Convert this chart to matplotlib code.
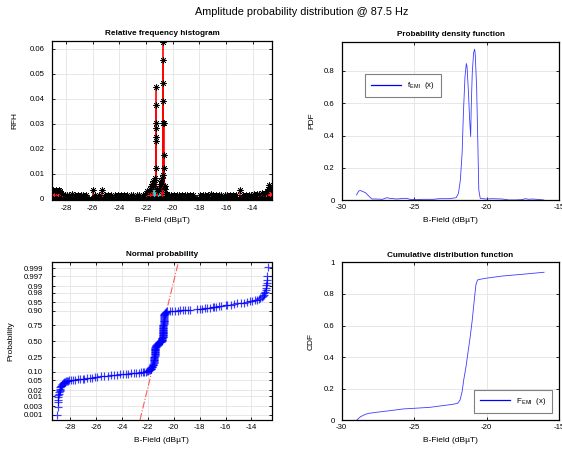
import numpy as np
import matplotlib
matplotlib.use('Agg')
import matplotlib.pyplot as plt
from matplotlib.lines import Line2D
from statistics import NormalDist

plt.rcParams['font.family'] = ['Liberation Sans', 'DejaVu Sans']
plt.rcParams['axes.unicode_minus'] = False
plt.rcParams['mathtext.fontset'] = 'custom'
plt.rcParams['mathtext.rm'] = 'Liberation Sans'
plt.rcParams['mathtext.it'] = 'Liberation Sans'

# ---------------- data ----------------
suptitle = 'Amplitude probability distribution @ 87.5 Hz'
xlabel = 'B-Field (dB\u00b5T)'

# Relative frequency histogram (stems)
hist_lo_x = [-28.95, -28.85, -28.75, -28.65, -28.55, -28.45, -28.35, -28.25, -28.1, -27.95,
             -27.75, -27.55, -27.35, -27.1, -26.9, -26.7, -26.5, -26.0, -25.8, -25.55,
             -25.3, -25.1, -24.85, -24.6, -24.35, -24.1, -23.9, -23.65, -23.4, -23.15,
             -22.95, -22.7, -22.5, -22.25, -22.05]
hist_lo_rfh = [0.0035, 0.003, 0.0035, 0.003, 0.0035, 0.003, 0.0025, 0.002, 0.0015, 0.0015,
               0.0015, 0.002, 0.0015, 0.0015, 0.0015, 0.0015, 0.0015, 0.0035, 0.0015, 0.0015,
               0.0035, 0.0015, 0.0015, 0.0015, 0.0015, 0.0015, 0.0015, 0.0015, 0.0015, 0.0015,
               0.0015, 0.0015, 0.0015, 0.0015, 0.002]
hist_pk_x = [-21.9, -21.8, -21.7, -21.6, -21.55, -21.5, -21.45, -21.4, -21.35, -21.3,
             -21.27, -21.26, -21.25, -21.25, -21.24, -21.23, -21.22, -21.15, -21.1, -21.0,
             -20.95, -20.9, -20.85, -20.8, -20.75, -20.72, -20.71, -20.70, -20.70, -20.69,
             -20.68, -20.67, -20.66, -20.6, -20.55, -20.5]
hist_pk_rfh = [0.003, 0.003, 0.004, 0.005, 0.006, 0.005, 0.007, 0.006, 0.0075, 0.0085,
               0.0125, 0.0448, 0.0305, 0.0249, 0.0375, 0.0285, 0.0233, 0.004, 0.003, 0.004,
               0.005, 0.006, 0.007, 0.0085, 0.0096, 0.0392, 0.0465, 0.0555, 0.0302, 0.0628,
               0.0302, 0.0176, 0.0122, 0.005, 0.004, 0.002]
hist_hi_x = [-20.45, -20.3, -20.1, -19.9, -19.7, -19.5, -19.3, -19.1, -18.9, -18.7,
             -18.5, -17.95, -17.75, -17.55, -17.35, -17.15, -16.95, -16.75, -16.55, -16.35,
             -16.1, -15.9, -15.7, -15.5, -15.25, -14.95, -14.7, -14.5, -14.3, -14.1,
             -13.9, -13.7, -13.5, -13.3, -13.1, -12.95, -12.85, -12.75, -12.65]
hist_hi_rfh = [0.002, 0.0015, 0.0015, 0.0015, 0.0015, 0.0015, 0.0015, 0.0015, 0.0015, 0.0015,
               0.0015, 0.0015, 0.0015, 0.0015, 0.0015, 0.002, 0.0015, 0.0015, 0.0015, 0.0015,
               0.0015, 0.0015, 0.0015, 0.0015, 0.0015, 0.0035, 0.0015, 0.0015, 0.0015, 0.0015,
               0.002, 0.002, 0.002, 0.0025, 0.0025, 0.003, 0.004, 0.0055, 0.004]
hist_cyan_x = [-21.4, -21.3, -21.05, -20.95, -20.6, -20.5]
hist_cyan_rfh = [0.004, 0.0035, 0.004, 0.0035, 0.004, 0.003]
hist_empty_bins = np.arange(-28.95, -12.55, 0.1)

# Probability density function
pdf_x = [-28.98, -28.82, -28.70, -28.36, -28.02, -27.9, -27.57, -27.2, -26.9, -26.66,
         -26.2, -25.75, -25.5, -25.3, -24.84, -24.39, -23.7, -23.25, -22.57, -22.11,
         -21.95, -21.82, -21.70, -21.61, -21.5, -21.41, -21.36, -21.27, -21.18, -21.11,
         -21.07, -21.0, -20.91, -20.84, -20.8, -20.7, -20.61, -20.55, -20.45, -20.07,
         -19.6, -18.93, -18.48, -18.02, -17.57, -17.34, -17.11, -16.89, -16.55, -16.07]
pdf_y = [0.033, 0.058, 0.060, 0.047, 0.016, 0.008, 0.008, 0.006, 0.016, 0.012,
         0.008, 0.012, 0.012, 0.006, 0.004, 0.006, 0.006, 0.010, 0.010, 0.016,
         0.043, 0.126, 0.29, 0.54, 0.765, 0.845, 0.827, 0.68, 0.497, 0.394,
         0.58, 0.786, 0.909, 0.934, 0.909, 0.703, 0.33, 0.064, 0.012, 0.008,
         0.010, 0.008, 0.002, 0.002, 0.004, 0.010, 0.006, 0.008, 0.006, 0.002]

# Cumulative distribution function
cdf_x = [-28.98, -28.70, -28.36, -28.14, -27.57, -26.66, -25.75, -25.0, -23.93, -23.02,
         -22.34, -22.0, -21.84, -21.70, -21.59, -21.43, -21.27, -21.14, -21.0, -20.86,
         -20.75, -20.64, -20.48, -20.07, -18.93, -17.57, -16.05]
cdf_y = [0.0, 0.023, 0.038, 0.044, 0.051, 0.061, 0.072, 0.076, 0.082, 0.093,
         0.101, 0.108, 0.129, 0.181, 0.255, 0.34, 0.445, 0.53, 0.635, 0.762,
         0.857, 0.888, 0.892, 0.899, 0.913, 0.924, 0.937]

# Normal probability plot points (value, probability) - lower tail / plateau
np_lo_x = [-29.03, -28.93, -28.93, -28.93, -28.92, -28.90, -28.87, -28.85, -28.82, -28.80,
           -28.78, -28.75, -28.72, -28.68, -28.64, -28.59, -28.55, -28.50, -28.46, -28.40,
           -28.33, -28.26, -28.18,
           -28.05, -27.9, -27.75, -27.6, -27.4, -27.2, -27.04, -26.9, -26.7, -26.5,
           -26.3, -26.1, -25.9, -25.6, -25.4, -25.1, -24.83, -24.6, -24.4, -24.18,
           -23.9, -23.7, -23.53, -23.3, -23.1, -22.9, -22.7, -22.55, -22.4, -22.26,
           -22.15, -22.05]
np_lo_p = [0.0009, 0.0028, 0.0052, 0.0070, 0.0094, 0.0115, 0.0136, 0.016, 0.019, 0.021,
           0.023, 0.026, 0.029, 0.031, 0.034, 0.037, 0.039, 0.041, 0.043, 0.045,
           0.046, 0.048, 0.049,
           0.050, 0.051, 0.052, 0.053, 0.054, 0.055, 0.057, 0.058, 0.060, 0.061,
           0.063, 0.064, 0.066, 0.069, 0.070, 0.072, 0.075, 0.077, 0.079, 0.081,
           0.083, 0.085, 0.087, 0.089, 0.091, 0.093, 0.094, 0.096, 0.097, 0.099,
           0.101, 0.103]
# dense central band
np_mid_x = [-21.98, -21.90, -21.84, -21.78, -21.75, -21.72, -21.69, -21.67, -21.64, -21.62,
            -21.60, -21.58, -21.56, -21.54, -21.53, -21.52, -21.51, -21.50, -21.495, -21.49,
            -21.485, -21.48, -21.475, -21.47, -21.465, -21.46, -21.455, -21.45, -21.445, -21.44,
            -21.435, -21.43, -21.425, -21.42, -21.41, -21.40, -21.39, -21.38, -21.36, -21.33,
            -21.29, -21.25, -21.20, -21.15, -21.10, -21.05, -21.01, -20.97, -20.94, -20.92,
            -20.90, -20.89, -20.88, -20.87, -20.865, -20.86, -20.855, -20.85, -20.845, -20.84,
            -20.835, -20.83, -20.825, -20.82, -20.82, -20.815, -20.81, -20.81, -20.805, -20.80,
            -20.80, -20.795, -20.79, -20.79, -20.785, -20.78, -20.78, -20.775, -20.77, -20.77,
            -20.765, -20.76, -20.755, -20.75, -20.74, -20.73, -20.72, -20.70, -20.68, -20.65,
            -20.62, -20.58, -20.5]
np_mid_p = [0.106, 0.110, 0.115, 0.120, 0.125, 0.130, 0.135, 0.140, 0.148, 0.155,
            0.162, 0.170, 0.180, 0.190, 0.200, 0.210, 0.220, 0.230, 0.240, 0.250,
            0.260, 0.270, 0.280, 0.290, 0.300, 0.310, 0.320, 0.330, 0.340, 0.350,
            0.360, 0.370, 0.380, 0.390, 0.400, 0.410, 0.420, 0.430, 0.438, 0.445,
            0.452, 0.460, 0.468, 0.475, 0.482, 0.490, 0.497, 0.505, 0.512, 0.520,
            0.530, 0.540, 0.550, 0.560, 0.570, 0.580, 0.590, 0.600, 0.610, 0.620,
            0.630, 0.640, 0.650, 0.660, 0.670, 0.680, 0.690, 0.700, 0.710, 0.720,
            0.730, 0.740, 0.750, 0.760, 0.770, 0.780, 0.790, 0.800, 0.810, 0.820,
            0.830, 0.840, 0.850, 0.860, 0.865, 0.870, 0.875, 0.880, 0.884, 0.888,
            0.891, 0.894, 0.897]
# upper plateau / upper tail
np_hi_x = [-20.3, -20.1, -19.9, -19.7, -19.5, -19.3, -19.1, -18.9, -18.75, -18.2,
           -18.0, -17.8, -17.6, -17.42, -17.2, -17.0, -16.9, -16.7, -16.5, -16.38,
           -16.0, -15.87, -15.6, -15.35, -15.1, -14.83, -14.6, -14.31, -14.1, -13.92,
           -13.75, -13.6, -13.45, -13.3, -13.2, -13.1, -13.05, -13.0, -12.95, -12.9,
           -12.88, -12.85, -12.83, -12.8, -12.78, -12.75]
np_hi_p = [0.900, 0.901, 0.902, 0.903, 0.905, 0.906, 0.907, 0.908, 0.910, 0.912,
           0.914, 0.916, 0.918, 0.920, 0.922, 0.924, 0.926, 0.928, 0.930, 0.932,
           0.935, 0.937, 0.940, 0.942, 0.945, 0.947, 0.949, 0.952, 0.954, 0.956,
           0.959, 0.961, 0.964, 0.967, 0.970, 0.973, 0.976, 0.979, 0.982, 0.985,
           0.988, 0.991, 0.993, 0.995, 0.997, 0.9991]
np_ref_q1 = -21.43
np_ref_q3 = -20.83
np_tick_p = [0.001, 0.003, 0.01, 0.02, 0.05, 0.10, 0.25, 0.50, 0.75, 0.90, 0.95, 0.98, 0.99, 0.997, 0.999]
np_tick_lbl = ['0.001', '0.003', '0.01', '0.02', '0.05', '0.10', '0.25', '0.50', '0.75', '0.90',
               '0.95', '0.98', '0.99', '0.997', '0.999']

# ---------------- figure ----------------
W, H = 562, 450
fig = plt.figure(figsize=(W / 100, H / 100), dpi=100)


def px_axes(l, r, t, b):
    return fig.add_axes([l / W, 1 - b / H, (r - l) / W, (b - t) / H])


TICK = 5.6
GRID = '#e3e3e3'
LINE_BLUE = '#3c3cff'


def style(ax, ypad=5.0):
    ax.tick_params(direction='in', length=2.5, width=0.6, top=True, right=True,
                   labelsize=TICK, colors='black')
    ax.tick_params(axis='x', pad=3)
    ax.tick_params(axis='y', pad=ypad)
    ax.grid(True, color=GRID, linewidth=0.6)
    ax.set_axisbelow(True)
    for s in ax.spines.values():
        s.set_linewidth(0.9)
        s.set_color('black')


ax1 = px_axes(52, 272, 41, 200.5)
ax2 = px_axes(341.7, 559.3, 41.7, 200.3)
ax3 = px_axes(52, 271.5, 262, 420)
ax4 = px_axes(341.7, 559.3, 262.3, 420.3)

ast = (8, 2, 0)

# --- histogram ---
for xs, ys in ((hist_lo_x, hist_lo_rfh), (hist_pk_x, hist_pk_rfh), (hist_hi_x, hist_hi_rfh)):
    ax1.vlines(xs, 0, ys, colors='red', linewidth=1.2, zorder=2)
ax1.vlines(hist_cyan_x, 0, hist_cyan_rfh, colors='#00e5e5', linewidth=1.2, zorder=3)
ax1.plot(hist_empty_bins, np.zeros_like(hist_empty_bins), linestyle='none', marker=ast,
         ms=4.5, mec='black', mew=0.5, zorder=4)
for xs, ys in ((hist_lo_x, hist_lo_rfh), (hist_pk_x, hist_pk_rfh), (hist_hi_x, hist_hi_rfh)):
    ax1.plot(xs, ys, linestyle='none', marker=ast, ms=4.5, mec='black', mew=0.5, zorder=5)
ax1.set_xlim(-29.05, -12.55)
ax1.set_ylim(-0.0006, 0.0631)
ax1.set_xticks([-28, -26, -24, -22, -20, -18, -16, -14])
ax1.set_yticks([0, 0.01, 0.02, 0.03, 0.04, 0.05, 0.06])
ax1.set_yticklabels(['0', '0.01', '0.02', '0.03', '0.04', '0.05', '0.06'])
style(ax1, 5.5)
ax1.set_title('Relative frequency histogram', fontsize=5.9, fontweight='bold', pad=4)
ax1.set_ylabel('RFH', fontsize=6)
ax1.set_xlabel(xlabel, fontsize=6)

# --- PDF ---
ax2.plot(pdf_x, pdf_y, color=LINE_BLUE, linewidth=0.6)
ax2.set_xlim(-30, -15)
ax2.set_ylim(0, 0.98)
ax2.set_xticks([-30, -25, -20, -15])
ax2.set_yticks([0, 0.2, 0.4, 0.6, 0.8])
ax2.set_yticklabels(['0', '0.2', '0.4', '0.6', '0.8'])
style(ax2, 5.0)
ax2.set_title('Probability density function', fontsize=5.9, fontweight='bold', pad=4)
ax2.set_ylabel('PDF', fontsize=6)
ax2.set_xlabel(xlabel, fontsize=6)
h2 = Line2D([], [], color='blue', linewidth=0.9)
leg2 = ax2.legend([h2], [r'f$_{\,\mathrm{EMI}}$  (x)'], loc='upper left',
                  bbox_to_anchor=(0.107, 0.796), borderaxespad=0,
                  fontsize=5.6, handlelength=3.8, fancybox=False, framealpha=1,
                  edgecolor='#808080', borderpad=0.8)
leg2.get_frame().set_linewidth(0.8)

# --- Normal probability ---
nd = NormalDist()
zlim = (-3.32, 3.35)
ref_sigma = (np_ref_q3 - np_ref_q1) / (nd.inv_cdf(0.75) - nd.inv_cdf(0.25))
ref_mu = (np_ref_q1 + np_ref_q3) / 2
ref_z = np.array(zlim)
ax3.plot(ref_mu + ref_sigma * ref_z, ref_z, color='#ff5a5a', linestyle='-.', linewidth=0.8, zorder=2)
for xs, ps in ((np_lo_x, np_lo_p), (np_mid_x, np_mid_p), (np_hi_x, np_hi_p)):
    zs = [nd.inv_cdf(p) for p in ps]
    ax3.plot(xs, zs, linestyle='none', marker='+', ms=6, mew=0.85, color='blue',
             alpha=0.75, zorder=3)
ax3.set_xlim(-29.4, -12.45)
ax3.set_ylim(*zlim)
ax3.set_xticks([-28, -26, -24, -22, -20, -18, -16, -14])
ax3.set_yticks([nd.inv_cdf(p) for p in np_tick_p])
ax3.set_yticklabels(np_tick_lbl)
style(ax3, 6.5)
ax3.set_title('Normal probability', fontsize=5.9, fontweight='bold', pad=4)
ax3.set_ylabel('Probability', fontsize=6)
ax3.set_xlabel(xlabel, fontsize=6)

# --- CDF ---
ax4.plot(cdf_x, cdf_y, color=LINE_BLUE, linewidth=0.6)
ax4.set_xlim(-30, -15)
ax4.set_ylim(0, 1)
ax4.set_xticks([-30, -25, -20, -15])
ax4.set_yticks([0, 0.2, 0.4, 0.6, 0.8, 1])
ax4.set_yticklabels(['0', '0.2', '0.4', '0.6', '0.8', '1'])
style(ax4, 5.0)
ax4.set_title('Cumulative distribution function', fontsize=5.9, fontweight='bold', pad=4)
ax4.set_ylabel('CDF', fontsize=6)
ax4.set_xlabel(xlabel, fontsize=6)
h4 = Line2D([], [], color='blue', linewidth=0.9)
leg4 = ax4.legend([h4], [r'F$_{\,\mathrm{EMI}}$  (x)'], loc='lower right', borderaxespad=0.9,
                  fontsize=5.6, handlelength=3.8, fancybox=False, framealpha=1,
                  edgecolor='#808080', borderpad=0.8)
leg4.get_frame().set_linewidth(0.8)

for ax, yl in ((ax1, -0.152), (ax2, -0.123), (ax3, -0.171), (ax4, -0.123)):
    ax.yaxis.set_label_coords(yl, 0.5)
    ax.xaxis.set_label_coords(0.5, -0.105)

fig.text(302 / W, 1 - 12 / H, suptitle, ha='center', va='center', fontsize=7.8)

fig.savefig('out.png', dpi=100)
